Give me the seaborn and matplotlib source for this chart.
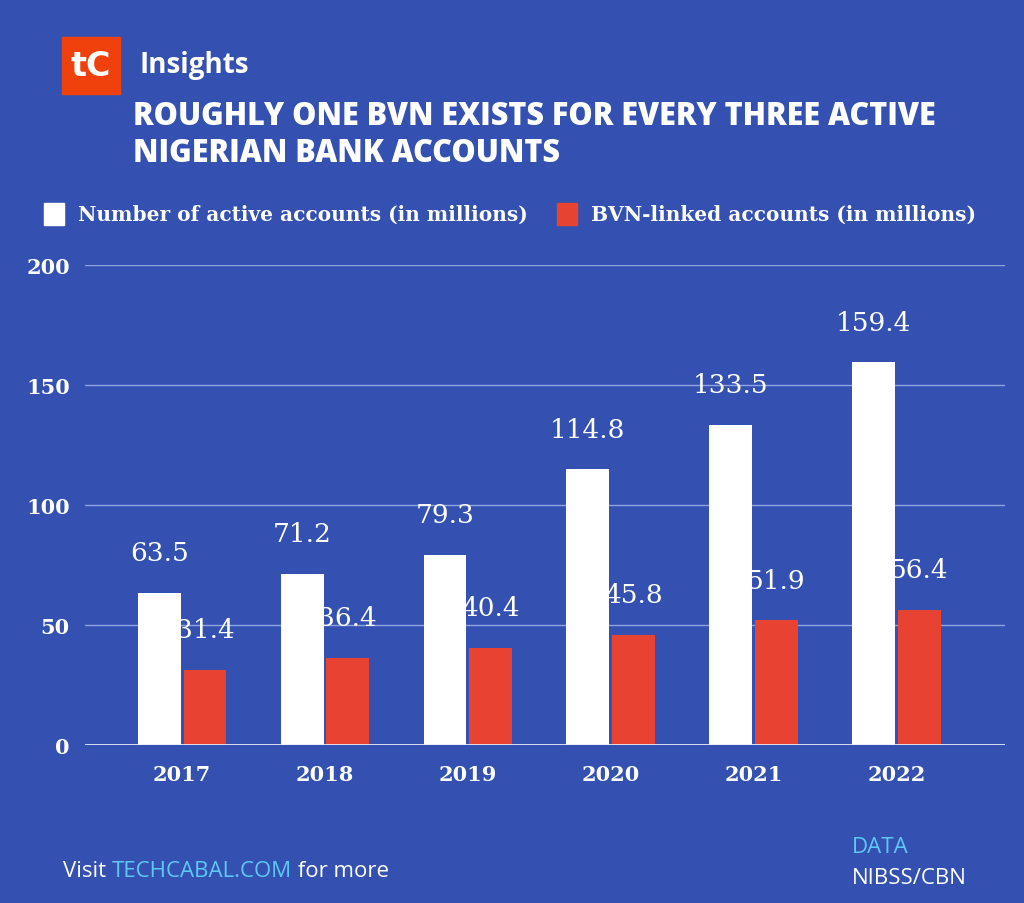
import numpy as np
import pandas as pd
import matplotlib
matplotlib.use("Agg")
import matplotlib.pyplot as plt
import seaborn as sns

years = ["2017", "2018", "2019", "2020", "2021", "2022"]
active_accounts = [63.5, 71.2, 79.3, 114.8, 133.5, 159.4]
bvn_accounts = [31.4, 36.4, 40.4, 45.8, 51.9, 56.4]
series_names = ["Number of active accounts (in millions)", "BVN-linked accounts (in millions)"]

bg = "#3451b2"
white = "#ffffff"
red = "#e84232"
cyan = "#5ec8f5"

df = pd.DataFrame({
    "year": years * 2,
    "value": active_accounts + bvn_accounts,
    "series": [series_names[0]] * 6 + [series_names[1]] * 6,
})

sns.set_style("white")
plt.rcParams["font.family"] = ["DejaVu Sans"]

fig = plt.figure(figsize=(10.24, 9.04), dpi=100, facecolor=bg)
ax = fig.add_axes([85 / 1024, 1 - 746 / 904, 920 / 1024, 480 / 904])
ax.set_facecolor(bg)

sns.barplot(data=df, x="year", y="value", hue="series", palette=[white, red],
            width=0.64, gap=0.06, ax=ax, legend=False, saturation=1, linewidth=0)

ax.set_ylim(0, 200)
ax.set_xlim(-0.68, 5.76)
ax.set_yticks([0, 50, 100, 150, 200])
ax.yaxis.grid(True, color="#8fa3e0", linewidth=1)
ax.set_axisbelow(True)
for s in ax.spines.values():
    s.set_visible(False)
ax.axhline(0, color="#e6ebf7", linewidth=2)
ax.set_xlabel("")
ax.set_ylabel("")
ax.tick_params(axis="both", length=0, colors=white)
for lab in ax.get_yticklabels():
    lab.set_fontfamily("DejaVu Serif")
    lab.set_fontsize(15)
    lab.set_fontweight("bold")
ax.tick_params(axis="y", pad=11)
for lab in ax.get_xticklabels():
    lab.set_fontfamily("DejaVu Serif")
    lab.set_fontsize(15)
    lab.set_fontweight("bold")
ax.tick_params(axis="x", pad=14)

for cont in ax.containers:
    ax.bar_label(cont, labels=[f"{v:.1f}" for v in cont.datavalues], padding=20,
                 color=white, fontsize=19, family="DejaVu Serif")

# legend
fig.patches.append(plt.Rectangle((44 / 1024, 1 - 226 / 904), 20 / 1024, 22 / 904,
                                 transform=fig.transFigure, color=white))
fig.text(78 / 1024, 1 - 215 / 904, series_names[0], color=white, fontsize=14.5,
         fontweight="bold", family="DejaVu Serif", va="center")
fig.patches.append(plt.Rectangle((557 / 1024, 1 - 226 / 904), 20 / 1024, 22 / 904,
                                 transform=fig.transFigure, color=red))
fig.text(591 / 1024, 1 - 215 / 904, series_names[1], color=white, fontsize=14.5,
         fontweight="bold", family="DejaVu Serif", va="center")

# header
fig.patches.append(plt.Rectangle((62 / 1024, 1 - 95 / 904), 58 / 1024, 57 / 904,
                                 transform=fig.transFigure, color="#f0400c"))
fig.text(91 / 1024, 1 - 67 / 904, "tC", color=white, fontsize=24, fontweight="heavy",
         family="DejaVu Sans", ha="center", va="center")
fig.text(139 / 1024, 1 - 66 / 904, "Insights", color=white, fontsize=20,
         fontweight="bold", family="Open Sans", va="center")
fig.text(133 / 1024, 1 - 117 / 904, "ROUGHLY ONE BVN EXISTS FOR EVERY THREE ACTIVE",
         color=white, fontsize=22, fontweight="heavy", family="Open Sans", va="center")
fig.text(133 / 1024, 1 - 154 / 904, "NIGERIAN BANK ACCOUNTS",
         color=white, fontsize=22, fontweight="heavy", family="Open Sans", va="center")

# footer
t1 = fig.text(63 / 1024, 1 - 872 / 904, "Visit ", color=white, fontsize=16,
              family="Open Sans", va="center")
t2 = ax.annotate("TECHCABAL.COM", xy=(1, 0), xycoords=t1, va="bottom",
                 color=cyan, fontsize=16, family="Open Sans", annotation_clip=False)
ax.annotate(" for more", xy=(1, 0), xycoords=t2, va="bottom",
            color=white, fontsize=16, family="Open Sans", annotation_clip=False)
fig.text(852 / 1024, 1 - 848 / 904, "DATA", color=cyan, fontsize=16,
         family="Open Sans", va="center")
fig.text(852 / 1024, 1 - 879 / 904, "NIBSS/CBN", color=white, fontsize=16,
         family="Open Sans", va="center")

fig.savefig("out.png", dpi=100, facecolor=bg)
